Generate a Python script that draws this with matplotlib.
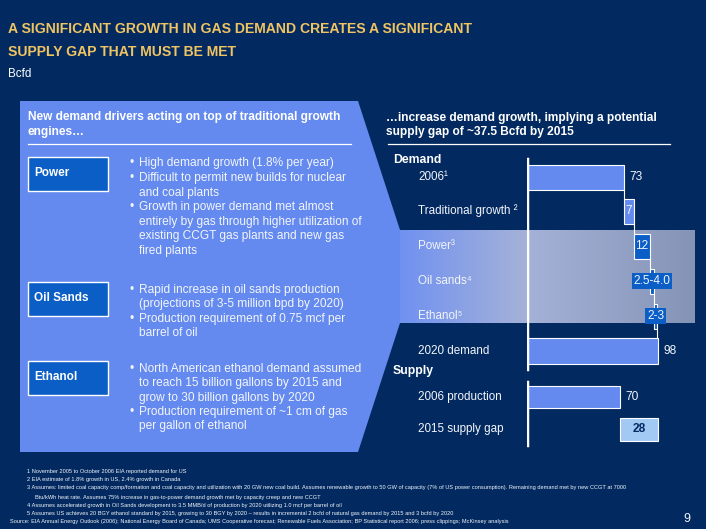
import matplotlib
matplotlib.use('Agg')
import matplotlib.pyplot as plt
import numpy as np
from matplotlib import font_manager
from matplotlib.patches import Polygon, Rectangle

NAVY = '#022a60'
PANEL = '#648af0'
BOX = '#0a5ec6'
GOLD = '#f0c462'
GAP = '#a2c8f4'
WHITE = '#f2f5fb'

# data
demand_labels = ['2006¹', 'Traditional growth ²', 'Power³', 'Oil sands⁴', 'Ethanol⁵']
demand_values = [73, 7, 12, 3.25, 2.5]          # oil sands / ethanol = midpoints of ranges
demand_tags = ['73', '7', '12', '2.5-4.0', '2-3']
total_label = '2020 demand'
total_value = 98
supply_labels = ['2006 production', '2015 supply gap']
supply_values = [70, 28]

plt.rcParams['font.family'] = ['Liberation Sans', 'DejaVu Sans']
names = {f.name for f in font_manager.fontManager.ttflist}
narrow = 'Liberation Sans Narrow' in names
title_font = ['Liberation Sans Narrow', 'DejaVu Sans'] if narrow else ['Liberation Sans', 'DejaVu Sans']
title_size = 12.3 if narrow else 10.1
unit_size = 10.5 if narrow else 8.4

fig = plt.figure(figsize=(7.06, 5.29), dpi=100, facecolor=NAVY)
ax = fig.add_axes([0, 0, 1, 1])
ax.set_xlim(0, 706)
ax.set_ylim(529, 0)
ax.axis('off')

# title
ax.text(8, 29, 'A SIGNIFICANT GROWTH IN GAS DEMAND CREATES A SIGNIFICANT', color=GOLD,
        fontsize=title_size, fontweight='bold', family=title_font, va='center')
ax.text(8, 52, 'SUPPLY GAP THAT MUST BE MET', color=GOLD,
        fontsize=title_size, fontweight='bold', family=title_font, va='center')
ax.text(8, 74, 'Bcfd', color='white', fontsize=unit_size, family=title_font, va='center')

# left panel with band
ax.add_patch(Polygon([(20, 101), (358, 101), (400, 230), (400, 323), (358, 452), (20, 452)],
                     closed=True, facecolor=PANEL, edgecolor='none', zorder=1))
xs = np.linspace(0, 1, 300)
stops = np.array([[112, 145, 240], [165, 178, 216], [132, 148, 182]]) / 255
grad = np.empty((1, 300, 3))
for c in range(3):
    grad[0, :, c] = np.interp(xs, [0, 0.43, 1], stops[:, c])
ax.imshow(grad, extent=(400, 695, 323, 230), aspect='auto', zorder=1)
ax.set_xlim(0, 706)
ax.set_ylim(529, 0)

ax.text(28, 117, 'New demand drivers acting on top of traditional growth', color='white',
        fontsize=8.6, fontweight='bold', va='center', zorder=3)
ax.text(28, 132, 'engines…', color='white', fontsize=8.6, fontweight='bold', va='center', zorder=3)
ax.plot([28, 351], [144, 144], color='white', lw=0.9, zorder=3)

boxes = [('Power', 157), ('Oil Sands', 282), ('Ethanol', 361)]
for name, top in boxes:
    ax.add_patch(Rectangle((28, top), 80, 34, facecolor=BOX, edgecolor='white', lw=1, zorder=2))
    ax.text(34, top + 16, name, color='white', fontsize=8.5, fontweight='bold', va='center', zorder=3)

bullets = [
    (163, True, 'High demand growth (1.8% per year)'),
    (178, True, 'Difficult to permit new builds for nuclear'),
    (193, False, 'and coal plants'),
    (207, True, 'Growth in power demand met almost'),
    (222, False, 'entirely by gas through higher utilization of'),
    (236, False, 'existing CCGT gas plants and new gas'),
    (251, False, 'fired plants'),
    (290, True, 'Rapid increase in oil sands production'),
    (304, False, '(projections of 3-5 million bpd by 2020)'),
    (319, True, 'Production requirement of 0.75 mcf per'),
    (333, False, 'barrel of oil'),
    (369, True, 'North American ethanol demand assumed'),
    (383, False, 'to reach 15 billion gallons by 2015 and'),
    (398, False, 'grow to 30 billion gallons by 2020'),
    (412, True, 'Production requirement of ~1 cm of gas'),
    (426, False, 'per gallon of ethanol'),
]
for y, dot, txt in bullets:
    if dot:
        ax.text(129, y, '•', color=WHITE, fontsize=8.6, va='center', zorder=3)
    ax.text(139, y, txt, color=WHITE, fontsize=8.6, va='center', zorder=3)

# right side header
ax.text(386, 118, '…increase demand growth, implying a potential', color='white',
        fontsize=8.6, fontweight='bold', va='center', zorder=3)
ax.text(386, 132, 'supply gap of ~37.5 Bcfd by 2015', color='white',
        fontsize=8.6, fontweight='bold', va='center', zorder=3)
ax.plot([388, 670], [144, 144], color='white', lw=0.9, zorder=3)

ax.text(393, 160, 'Demand', color='white', fontsize=8.8, fontweight='bold', va='center', zorder=3)
ax.text(393, 371, 'Supply', color='white', fontsize=8.8, fontweight='bold', va='center', zorder=3)

demand_y = [177, 211, 246, 281, 316]
total_y = 351
supply_y = [397, 429]
for lab, y in zip(demand_labels + [total_label] + supply_labels, demand_y + [total_y] + supply_y):
    ax.text(418, y, lab, color=WHITE, fontsize=8.4, va='center', zorder=3)

# footnotes
notes = [
    (27, 471, '1 November 2005 to October 2006 EIA reported demand for US'),
    (27, 480, '2 EIA estimate of 1.8% growth in US, 2.4% growth in Canada'),
    (27, 488, '3 Assumes: limited coal capacity comp/formation and coal capacity and utilization with 20 GW new coal build. '
              'Assumes renewable growth to 50 GW of capacity (7% of US power consumption). Remaining demand met by new CCGT at 7000'),
    (35, 497, 'Btu/kWh heat rate. Assumes 75% increase in gas-to-power demand growth met by capacity creep and new CCGT'),
    (27, 505, '4 Assumes accelerated growth in Oil Sands development to 3.5 MMB/d of production by 2020 utilizing 1.0 mcf per barrel of oil'),
    (27, 513, '5 Assumes US achieves 20 BGY ethanol standard by 2015, growing to 30 BGY by 2020 – results in incremental '
              '2 bcfd of natural gas demand by 2015 and 3 bcfd by 2020'),
    (10, 522, 'Source: EIA Annual Energy Outlook (2006); National Energy Board of Canada; UMS Cooperative forecast; '
              'Renewable Fuels Association; BP Statistical report 2006; press clippings; McKinsey analysis'),
]
for x, y, txt in notes:
    ax.text(x, y, txt, color=WHITE, fontsize=4.1, va='center', zorder=3)
ax.text(683, 519, '9', color=WHITE, fontsize=9, va='center', zorder=3)

# waterfall chart on its own axes, x in Bcfd
px_per_unit = 1.335
ax2 = fig.add_axes([527 / 706, 0, 179 / 706, 1])
ax2.set_xlim(0, 179 / px_per_unit)
ax2.set_ylim(529, 0)
ax2.axis('off')
ax2.patch.set_alpha(0)

ends = np.cumsum(demand_values)
lefts = ends - np.array(demand_values)
h = 25
colors = [PANEL, PANEL, BOX, BOX, BOX]
ax2.barh(demand_y, demand_values, left=lefts, height=h, color=colors,
         edgecolor='white', linewidth=0.8, zorder=3)
for i in range(len(demand_values) - 1):
    ax2.plot([ends[i], ends[i]], [demand_y[i] + h / 2, demand_y[i + 1] - h / 2],
             color='white', lw=0.8, zorder=3)
ax2.plot([ends[-1], ends[-1]], [demand_y[-1] + h / 2, total_y - h / 2], color='white', lw=0.8, zorder=3)

ax2.text(ends[0] + 4, demand_y[0], demand_tags[0], color=WHITE, fontsize=8.6, va='center')
for i in (1, 2):
    ax2.text(lefts[i] + demand_values[i] / 2, demand_y[i], demand_tags[i], color=WHITE,
             fontsize=8.6, ha='center', va='center', zorder=4)
for i in (3, 4):
    ax2.text(lefts[i] + demand_values[i] / 2, demand_y[i], demand_tags[i], color=WHITE,
             fontsize=8.6, ha='center', va='center', zorder=4,
             bbox=dict(boxstyle='square,pad=0.15', facecolor=BOX, edgecolor='none'))

ax2.barh(total_y, total_value, height=26, color=PANEL, edgecolor='white', linewidth=0.8, zorder=3)
ax2.text(total_value + 4, total_y, str(total_value), color=WHITE, fontsize=8.6, va='center')

ax2.barh(supply_y[0], supply_values[0], height=22, color=PANEL, edgecolor='white', linewidth=0.8, zorder=3)
ax2.text(supply_values[0] + 4, supply_y[0], str(supply_values[0]), color=WHITE, fontsize=8.6, va='center')
ax2.barh(supply_y[1], supply_values[1], left=supply_values[0], height=23, color=GAP,
         edgecolor='white', linewidth=0.8, zorder=3)
ax2.text(supply_values[0] + supply_values[1] / 2, supply_y[1], str(supply_values[1]), color=NAVY,
         fontsize=8.6, fontweight='bold', ha='center', va='center', zorder=4)

ax2.plot([0, 0], [159, 369], color='white', lw=2.5, zorder=5)
ax2.plot([0, 0], [382, 445], color='white', lw=2.5, zorder=5)

fig.savefig('out.png', dpi=100, facecolor=NAVY)
